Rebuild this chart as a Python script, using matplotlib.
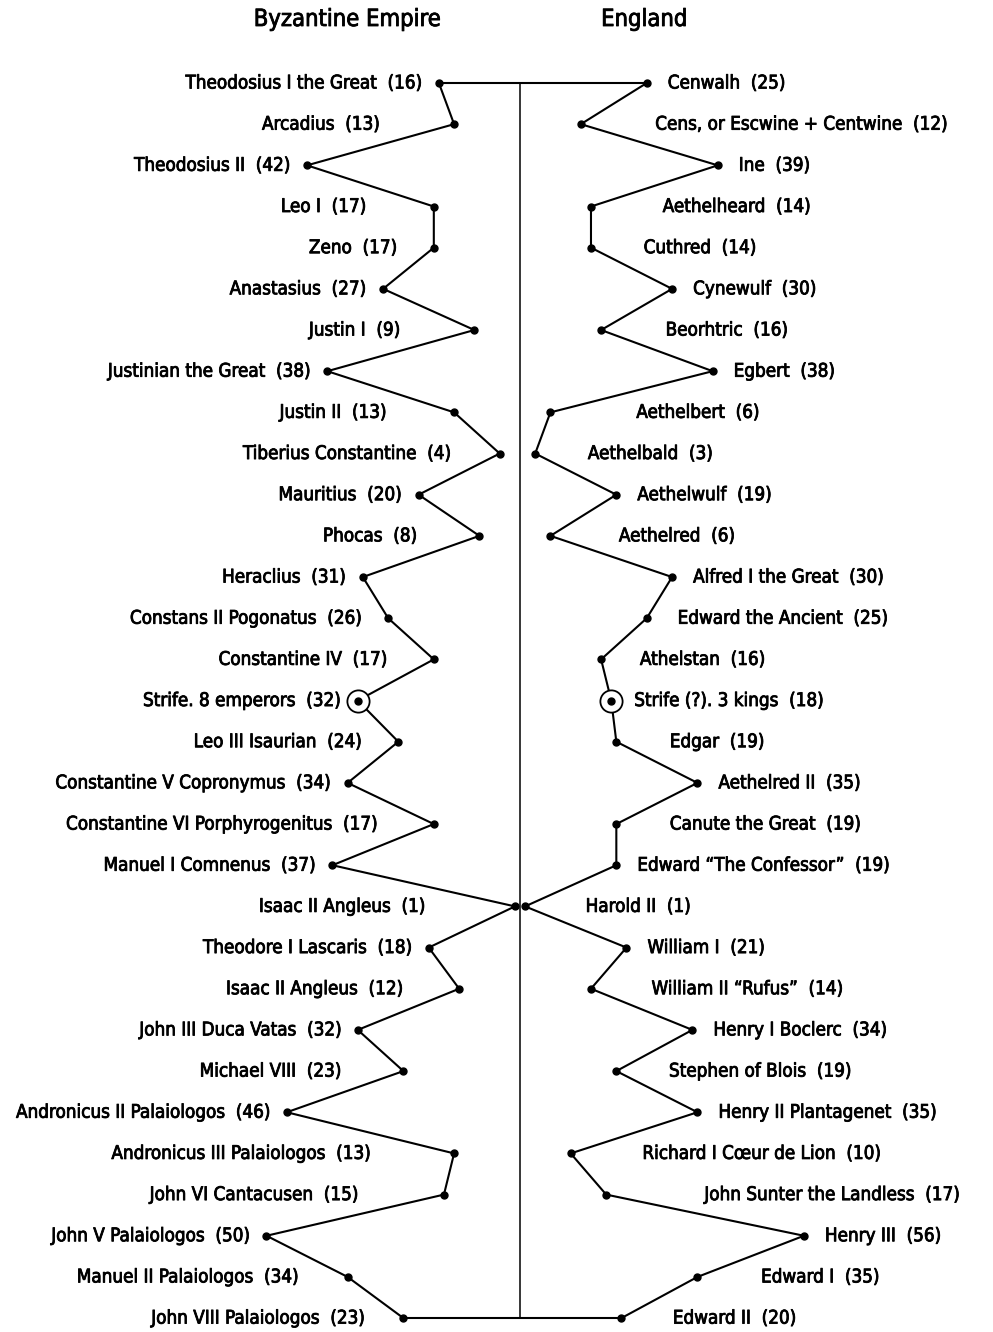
import numpy as np
import matplotlib
matplotlib.use("Agg")
import matplotlib.pyplot as plt
import matplotlib.patheffects as pe
from matplotlib import font_manager as fm

# condensed face if one is installed, else Roboto (narrower than DejaVu)
cond = fm.findfont(fm.FontProperties(family='DejaVu Sans', stretch='condensed'),
                   fallback_to_default=True)
if 'Condensed' in cond:
    plt.rcParams['font.family'] = ['DejaVu Sans']
    plt.rcParams['font.stretch'] = 'condensed'
    label_weight = 'normal'
else:
    plt.rcParams['font.family'] = ['Roboto', 'DejaVu Sans']
    label_weight = 'medium'

# reign lengths in years, top to bottom
byz_names = ["Theodosius I the Great", "Arcadius", "Theodosius II", "Leo I", "Zeno",
             "Anastasius", "Justin I", "Justinian the Great", "Justin II",
             "Tiberius Constantine", "Mauritius", "Phocas", "Heraclius",
             "Constans II Pogonatus", "Constantine IV", "Strife. 8 emperors",
             "Leo III Isaurian", "Constantine V Copronymus",
             "Constantine VI Porphyrogenitus", "Manuel I Comnenus", "Isaac II Angleus",
             "Theodore I Lascaris", "Isaac II Angleus", "John III Duca Vatas",
             "Michael VIII", "Andronicus II Palaiologos", "Andronicus III Palaiologos",
             "John VI Cantacusen", "John V Palaiologos", "Manuel II Palaiologos",
             "John VIII Palaiologos"]
byz_years = [16, 13, 42, 17, 17, 27, 9, 38, 13, 4, 20, 8, 31, 26, 17, 32, 24, 34, 17,
             37, 1, 18, 12, 32, 23, 46, 13, 15, 50, 34, 23]

eng_names = ["Cenwalh", "Cens, or Escwine + Centwine", "Ine", "Aethelheard", "Cuthred",
             "Cynewulf", "Beorhtric", "Egbert", "Aethelbert", "Aethelbald", "Aethelwulf",
             "Aethelred", "Alfred I the Great", "Edward the Ancient", "Athelstan",
             "Strife (?). 3 kings", "Edgar", "Aethelred II", "Canute the Great",
             "Edward \u201cThe Confessor\u201d", "Harold II", "William I",
             "William II \u201cRufus\u201d", "Henry I Boclerc", "Stephen of Blois",
             "Henry II Plantagenet", "Richard I C\u0153ur de Lion",
             "John Sunter the Landless", "Henry III", "Edward I", "Edward II"]
eng_years = [25, 12, 39, 14, 14, 30, 16, 38, 6, 3, 19, 6, 30, 25, 16, 18, 19, 35, 19,
             19, 1, 21, 14, 34, 19, 35, 10, 17, 56, 35, 20]

strife_idx = 15

W, H = 993, 1332
fig = plt.figure(figsize=(W / 100, H / 100), dpi=100)
ax = fig.add_axes([0, 0, 1, 1])

px_per_year = 5.07
px_per_step = 41.17
cx, top = 520, 83
ax.set_xlim(-cx / px_per_year, (W - cx) / px_per_year)
ax.set_ylim((H - top) / px_per_step, -top / px_per_step)
ax.axis('off')

n = len(byz_years)
idx = np.arange(n)
bx = -np.array(byz_years, dtype=float)
ex = np.array(eng_years, dtype=float)

lw = 1.5
ax.plot(bx, idx, color='black', lw=lw, zorder=2)
ax.plot(ex, idx, color='black', lw=lw, zorder=2)
ax.plot([bx[0], ex[0]], [0, 0], color='black', lw=lw, zorder=2)
ax.plot([bx[-1], ex[-1]], [n - 1, n - 1], color='black', lw=lw, zorder=2)
ax.plot([0, 0], [0, n - 1], color='black', lw=1.1, zorder=1)

normal = [i for i in idx if i != strife_idx]
ax.plot(bx[normal], idx[normal], 'o', color='black', ms=5, zorder=3)
ax.plot(ex[normal], idx[normal], 'o', color='black', ms=5, zorder=3)
for xs in (bx, ex):
    ax.plot(xs[strife_idx], strife_idx, 'o', mfc='white', mec='black', mew=1.3,
            ms=16, zorder=4)
    ax.plot(xs[strife_idx], strife_idx, 'o', color='black', ms=5, zorder=5)

# place labels clear of the zigzag near each row
yy = np.linspace(0, n - 1, 3001)
bline = np.interp(yy, idx, bx)
eline = np.interp(yy, idx, ex)
band = 0.4
gap_l = 17 / px_per_year
gap_r = 21 / px_per_year
fs = 13.5
bold = [pe.withStroke(linewidth=0.6, foreground='black')]
for i in idx:
    m = np.abs(yy - i) <= band
    xl = bline[m].min() - gap_l
    xr = eline[m].max() + gap_r
    ax.text(xl, i, f"{byz_names[i]}  ({byz_years[i]})", ha='right', va='center',
            fontsize=fs, fontweight=label_weight, path_effects=bold)
    ax.text(xr, i, f"{eng_names[i]}  ({eng_years[i]})", ha='left', va='center',
            fontsize=fs, fontweight=label_weight, path_effects=bold)

ty = -64 / px_per_step
ax.text((347 - cx) / px_per_year, ty, "Byzantine Empire", ha='center', va='center',
        fontsize=17, fontweight=label_weight, path_effects=bold)
ax.text((644 - cx) / px_per_year, ty, "England", ha='center', va='center',
        fontsize=17, fontweight=label_weight, path_effects=bold)

fig.savefig("out.png", dpi=100)
